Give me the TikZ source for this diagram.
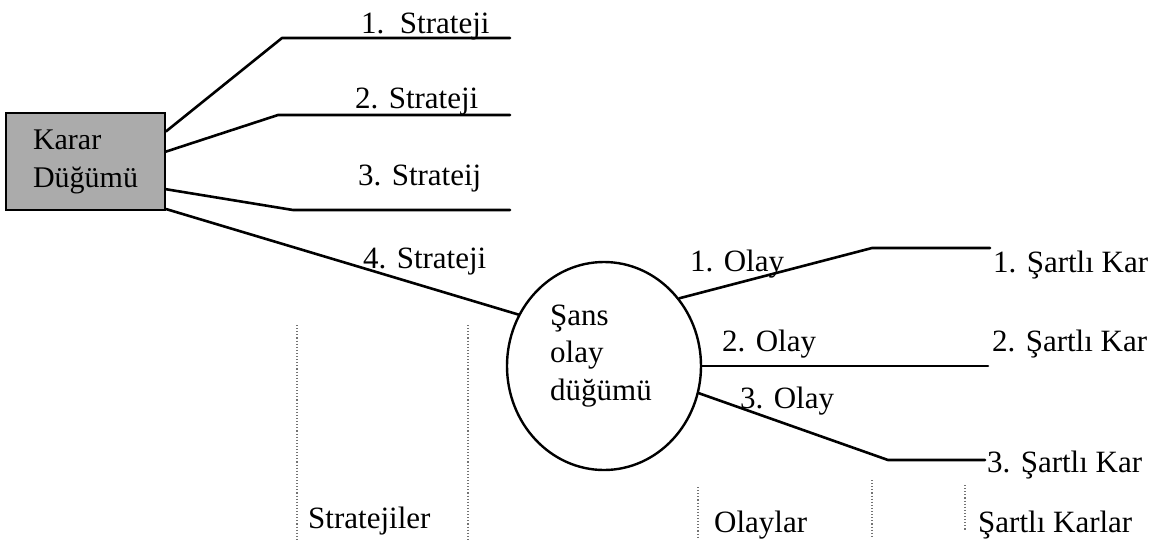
\documentclass[tikz,border=0pt]{standalone}
\usepackage{fontspec}
\setmainfont{Liberation Serif}
\usetikzlibrary{shapes.geometric,calc}
\begin{document}
\begin{tikzpicture}[x=1pt,y=-1pt,
  branch/.style={line width=2.6pt, line join=round, line cap=round},
  lbl/.style={anchor=base west, inner sep=0pt, font=\fontsize{31}{37}\selectfont},
  guide/.style={black!55, line width=1.1pt, dash pattern=on 1.1pt off 2pt},
  decision/.style={draw, line width=2pt, fill=black!33, inner sep=0pt,
    minimum width=159pt, minimum height=97pt, align=left,
    font=\fontsize{30}{38}\selectfont},
  chance/.style={draw, ellipse, line width=2.4pt, inner sep=0pt,
    minimum width=194pt, minimum height=208pt},
]
\useasboundingbox (0,0) rectangle (1154,542);

% decision node and chance node
\node[decision] (karar) at (85.5,161.5) {Karar\\Düğümü};
\node[chance] (sans) at (604,366) {};
% the base anchor of a multi-line node sits on its last baseline
\node[anchor=base west, inner sep=0pt, align=left,
      font=\fontsize{31}{37.5}\selectfont] (sanstext) at (550,400)
      {Şans\\olay\\düğümü};

% strategy branches: kink points and free ends
\coordinate (s1k) at (282,38);  \coordinate (s1e) at (510,38);
\coordinate (s2k) at (278,115); \coordinate (s2e) at (510,115);
\coordinate (s3k) at (293,210); \coordinate (s3e) at (510,210);

\draw[branch] ($(karar.north east)!0.196!(karar.south east)$) -- (s1k) -- (s1e);
\draw[branch] ($(karar.north east)!0.40!(karar.south east)$) -- (s2k) -- (s2e);
\draw[branch] ($(karar.north east)!0.78!(karar.south east)$) -- (s3k) -- (s3e);
\draw[branch] ($(karar.north east)!0.98!(karar.south east)$) -- (sans.149);

% event branches
\coordinate (o1k) at (872,248); \coordinate (o1e) at (990,248);
\coordinate (o2e) at (988,366);
\coordinate (o3k) at (888,460); \coordinate (o3e) at (985,460);

\draw[branch] (sans.42) -- (o1k) -- (o1e);
\draw[branch] (sans.east) -- (o2e);
\draw[branch] (sans.-16) -- (o3k) -- (o3e);

% branch labels
\node[lbl] (l1) at (361,33)  {1.\ \ Strateji};
\node[lbl] (l2) at (355,108) {2. Strateji};
\node[lbl] (l3) at (358,185) {3. Strateij};
\node[lbl] (l4) at (363,268) {4. Strateji};

\node[lbl] (e1) at (690,271) {1. Olay};
\node[lbl] (e2) at (722,351) {2. Olay};
\node[lbl] (e3) at (740,408) {3. Olay};

\node[lbl] (p1) at (993,272) {1. Şartlı Kar};
\node[lbl] (p2) at (992,351) {2. Şartlı Kar};
\node[lbl] (p3) at (987,472) {3. Şartlı Kar};

% column separators
\coordinate (g1a) at (297,325); \coordinate (g1b) at (297,540);
\coordinate (g2a) at (468,325); \coordinate (g2b) at (468,540);
\coordinate (g3a) at (698,487); \coordinate (g3b) at (698,537);
\coordinate (g4a) at (872,480); \coordinate (g4b) at (872,537);
\coordinate (g5a) at (965,485); \coordinate (g5b) at (965,530);
\foreach \g in {1,...,5} \draw[guide] (g\g a) -- (g\g b);

% column headings
\node[lbl] (c1) at (308,528) {Stratejiler};
\node[lbl] (c2) at (714,532) {Olaylar};
\node[lbl] (c3) at (978,532) {Şartlı Karlar};
\end{tikzpicture}
\end{document}
